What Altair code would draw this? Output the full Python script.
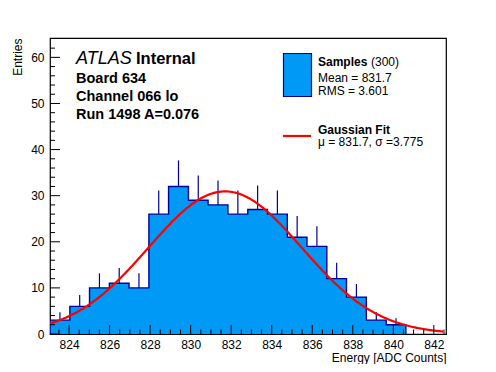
import altair as alt
import pandas as pd

# ---------------- data ----------------
bin_edges = [823.06, 824.04, 825.01, 825.99, 826.96, 827.94, 828.91, 829.89,
             830.86, 831.84, 832.82, 833.79, 834.77, 835.74, 836.72, 837.69,
             838.67, 839.65, 840.62]
counts = [3, 6, 10, 11, 10, 26, 32, 29, 28, 26, 27, 26, 21, 19, 12, 8, 3, 2]

fit_mu = 831.7
fit_sigma = 3.775
fit_amp = 30.93
fit_range = [823.06, 842.5]

x_domain = [823.06, 842.6]
y_domain = [0, 64.2]

x_labels = [824, 826, 828, 830, 832, 834, 836, 838, 840, 842]
x_minor = [823.5, 824.5, 825, 825.5, 826.5, 827, 827.5, 828.5, 829, 829.5,
           830.5, 831, 831.5, 832.5, 833, 833.5, 834.5, 835, 835.5, 836.5,
           837, 837.5, 838.5, 839, 839.5, 840.5, 841, 841.5, 842.5]
y_labels = [0, 10, 20, 30, 40, 50, 60]
y_minor = [2, 4, 6, 8, 12, 14, 16, 18, 22, 24, 26, 28, 32, 34, 36, 38,
           42, 44, 46, 48, 52, 54, 56, 58, 62]

title_lines = ["Board 634", "Channel 066 lo", "Run 1498 A=0.076"]
legend_hist = ["Samples", "(300)", "Mean = 831.7", "RMS = 3.601"]
legend_fit = ["Gaussian Fit", "\u03bc = 831.7, \u03c3 =3.775"]

# ---------------- style ----------------
W, H = 396, 296
FILL = "#0099f5"
EDGE = "#000099"
RED = "#ff0000"
FONT = "Liberation Sans"

xs = alt.Scale(domain=x_domain, nice=False, zero=False)
ys = alt.Scale(domain=y_domain, nice=False, zero=False)

x_axis = alt.Axis(
    values=x_labels, title="Energy [ADC Counts]", ticks=False, domain=False,
    grid=False, labelPadding=5, labelFontSize=12, labelColor="black",
    titleFontSize=12, titleFontWeight="normal", titleColor="black",
    titleAlign="right", titleAnchor="end", titleX=W, titleY=27,
    titleBaseline="alphabetic", format="d")
y_axis = alt.Axis(
    values=y_labels, title="Entries", ticks=False, domain=False, grid=False,
    labelPadding=6, labelFontSize=12, labelColor="black",
    titleFontSize=12, titleFontWeight="normal", titleColor="black",
    titleAngle=-90, titleAlign="right", titleBaseline="middle",
    titleX=-33, titleY=0)

def X(f):
    return alt.X(f, scale=xs, axis=x_axis)

def Y(f):
    return alt.Y(f, scale=ys, axis=y_axis)

hist_df = pd.DataFrame({"lo": bin_edges[:-1], "hi": bin_edges[1:], "count": counts})

# filled step shape
fx = bin_edges[:-1] + [bin_edges[-1]]
fy = counts + [counts[-1]]
fill_df = pd.DataFrame({"x": fx, "y": fy})

# outline polyline of histogram
ox = [bin_edges[0]] + bin_edges[:-1] + [bin_edges[-1], bin_edges[-1]]
oy = [0] + counts + [counts[-1], 0]
outline_df = pd.DataFrame({"x": ox, "y": oy, "i": list(range(len(ox)))})

fill = alt.Chart(fill_df).mark_area(
    color=FILL, interpolate="step-after", clip=True, opacity=1
).encode(x=X("x:Q"), y=Y("y:Q"), y2=alt.datum(0))

errs = alt.Chart(hist_df).transform_calculate(
    c="(datum.lo + datum.hi) / 2",
    top="datum.count + sqrt(datum.count)",
).mark_rule(color=EDGE, strokeWidth=1.2, clip=True).encode(
    x=X("c:Q"), y=Y("count:Q"), y2="top:Q",
)

outline = alt.Chart(outline_df).mark_line(
    color=EDGE, strokeWidth=1.4, interpolate="step-after", clip=True
).encode(x=X("x:Q"), y=Y("y:Q"), order="i:Q")

curve = alt.Chart(alt.sequence(fit_range[0], fit_range[1], 0.05, as_="x")).transform_calculate(
    y=f"{fit_amp} * exp(-0.5 * pow((datum.x - {fit_mu}) / {fit_sigma}, 2))"
).mark_line(color=RED, strokeWidth=2.2, clip=True).encode(x=X("x:Q"), y=Y("y:Q"))

def xticks(vals, length):
    return alt.Chart(pd.DataFrame({"v": vals})).mark_rule(color="black", strokeWidth=1).encode(
        x=X("v:Q"), y=alt.value(H), y2=alt.value(H - length))

def yticks(vals, length):
    return alt.Chart(pd.DataFrame({"v": vals})).mark_rule(color="black", strokeWidth=1).encode(
        y=Y("v:Q"), x=alt.value(0), x2=alt.value(length))

one = pd.DataFrame({"a": [0]})

def txt(s, x, y, size, weight="normal", style="normal", baseline="alphabetic"):
    return alt.Chart(one).mark_text(
        text=s, align="left", baseline=baseline, fontSize=size, fontWeight=weight,
        fontStyle=style, font=FONT, color="black"
    ).encode(x=alt.value(x), y=alt.value(y))

ox0, oy0 = 50, 38  # plot origin on page
texts = [
    txt("ATLAS", 76 - ox0, 64 - oy0, 18, style="italic"),
    txt("Internal", 136 - ox0, 64 - oy0, 16.5, weight="bold"),
    txt(title_lines[0], 76 - ox0, 83 - oy0, 14.5, weight="bold"),
    txt(title_lines[1], 76 - ox0, 101 - oy0, 14.5, weight="bold"),
    txt(title_lines[2], 76 - ox0, 119 - oy0, 14.5, weight="bold"),
    txt(legend_hist[0], 318 - ox0, 62 - oy0, 12, weight="bold", baseline="middle"),
    txt(legend_hist[1], 371 - ox0, 62 - oy0, 12, baseline="middle"),
    txt(legend_hist[2], 318 - ox0, 78 - oy0, 12, baseline="middle"),
    txt(legend_hist[3], 318 - ox0, 91 - oy0, 12, baseline="middle"),
    txt(legend_fit[0], 318 - ox0, 129.5 - oy0, 12, weight="bold", baseline="middle"),
    txt(legend_fit[1], 318 - ox0, 142 - oy0, 12, baseline="middle"),
]

leg_box = alt.Chart(one).mark_rect(fill=FILL, stroke=EDGE, strokeWidth=1.2).encode(
    x=alt.value(283.5 - ox0), x2=alt.value(311.5 - ox0),
    y=alt.value(53.5 - oy0), y2=alt.value(96.5 - oy0))
leg_line = alt.Chart(one).mark_rule(color=RED, strokeWidth=2.2).encode(
    x=alt.value(283 - ox0), x2=alt.value(311 - ox0), y=alt.value(136 - oy0))

chart = alt.layer(
    fill, errs, outline, curve,
    xticks(x_labels, 9), xticks(x_minor, 4.5),
    yticks(y_labels, 10), yticks(y_minor, 5),
    leg_box, leg_line, *texts,
).properties(
    width=W, height=H,
    autosize=alt.AutoSizeParams(type="none"),
    padding={"left": 42, "top": 30, "right": 40, "bottom": 30},
).configure(
    font=FONT,
).configure_view(
    stroke="black", strokeWidth=1.2,
).configure_axis(
    labelFont=FONT, titleFont=FONT,
)

chart.save("out.html", embed_options={"renderer": "svg", "actions": False})
